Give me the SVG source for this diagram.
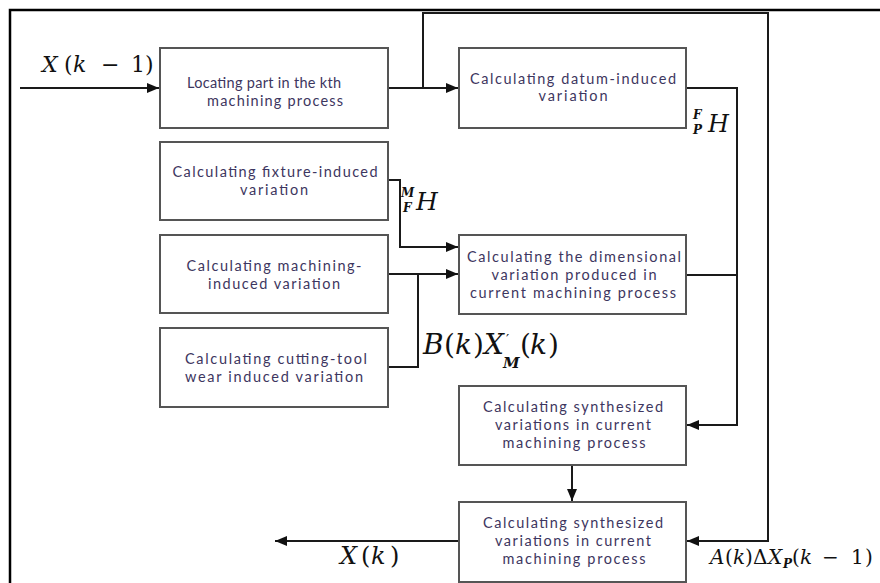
<svg xmlns="http://www.w3.org/2000/svg" width="880" height="583" viewBox="0 0 880 583">
  <defs>
    <marker id="arrow" viewBox="0 0 12 10" refX="12" refY="5" markerWidth="12" markerHeight="10" markerUnits="userSpaceOnUse" orient="auto">
      <path d="M0,0 L12,5 L0,10 z" fill="#111"/>
    </marker>
    <style>
      .box { fill: #fff; stroke: #555; stroke-width: 2; }
      .lbl { font-family: Lato, "Open Sans", "Liberation Sans", sans-serif; font-size: 14.5px; fill: #3d3660; text-anchor: middle; }
      .wire { fill: none; stroke: #1a1a1a; stroke-width: 2; }
      .math { font-family: "DejaVu Serif", "Liberation Serif", serif; fill: #111; }
      .it { font-style: italic; }
      .idx { font-style: italic; font-weight: bold; }
    </style>
  </defs>

  <rect width="880" height="583" fill="#fff"/>
  <!-- outer frame -->
  <path d="M10,583 V10 H880" fill="none" stroke="#000" stroke-width="2.5"/>

  <!-- connectors -->
  <g id="connectors">
    <path class="wire" d="M20,88 H159" marker-end="url(#arrow)"/>
    <path class="wire" d="M388,88 H458" marker-end="url(#arrow)"/>
    <path class="wire" d="M423,88 V13 H768 V541 H687" marker-end="url(#arrow)"/>
    <path class="wire" d="M686,88 H737 V425 H687" marker-end="url(#arrow)"/>
    <path class="wire" d="M686,275 H737"/>
    <path class="wire" d="M388,180 H400 V247 H458" marker-end="url(#arrow)"/>
    <path class="wire" d="M388,274 H458" marker-end="url(#arrow)"/>
    <path class="wire" d="M388,367 H418 V274"/>
    <path class="wire" d="M572,465 V501" marker-end="url(#arrow)"/>
    <path class="wire" d="M458,541 H275" marker-end="url(#arrow)"/>
  </g>

  <!-- process blocks -->
  <g id="locate">
    <rect class="box" x="160" y="48" width="228" height="80"/>
    <text class="lbl" x="264" y="88" textLength="154">Locating part in the kth</text>
    <text class="lbl" x="275" y="106" textLength="136">machining process</text>
  </g>
  <g id="datum">
    <rect class="box" x="459" y="48" width="227" height="80"/>
    <text class="lbl" x="573" y="84" textLength="206">Calculating datum-induced</text>
    <text class="lbl" x="573" y="101" textLength="69">variation</text>
  </g>
  <g id="fixture">
    <rect class="box" x="160" y="142" width="228" height="78"/>
    <text class="lbl" x="275" y="177" textLength="205">Calculating fixture-induced</text>
    <text class="lbl" x="274" y="195" textLength="68">variation</text>
  </g>
  <g id="machining">
    <rect class="box" x="160" y="235" width="228" height="78"/>
    <text class="lbl" x="274" y="271" textLength="175">Calculating machining-</text>
    <text class="lbl" x="274" y="289" textLength="132">induced variation</text>
  </g>
  <g id="toolwear">
    <rect class="box" x="160" y="328" width="228" height="79"/>
    <text class="lbl" x="276" y="364" textLength="182">Calculating cutting-tool</text>
    <text class="lbl" x="274" y="382" textLength="178">wear induced variation</text>
  </g>
  <g id="dimensional">
    <rect class="box" x="459" y="235" width="227" height="79"/>
    <text class="lbl" x="574" y="262" textLength="214">Calculating the dimensional</text>
    <text class="lbl" x="574" y="280" textLength="165">variation produced in</text>
    <text class="lbl" x="573" y="298" textLength="206">current machining process</text>
  </g>
  <g id="synthesized-1">
    <rect class="box" x="459" y="386" width="227" height="79"/>
    <text class="lbl" x="573" y="412" textLength="180">Calculating synthesized</text>
    <text class="lbl" x="573" y="430" textLength="156">variations in current</text>
    <text class="lbl" x="574" y="448" textLength="143">machining process</text>
  </g>
  <g id="synthesized-2">
    <rect class="box" x="459" y="502" width="227" height="80"/>
    <text class="lbl" x="573" y="528" textLength="180">Calculating synthesized</text>
    <text class="lbl" x="573" y="546" textLength="156">variations in current</text>
    <text class="lbl" x="574" y="564" textLength="143">machining process</text>
  </g>

  <!-- signal labels -->
  <g id="labels">
    <text class="math" y="72" font-size="22"><tspan class="it" x="42">X</tspan><tspan x="64">(</tspan><tspan class="it" x="73">k</tspan><tspan x="101">−</tspan><tspan x="131">1</tspan><tspan x="145">)</tspan></text>

    <text class="math"><tspan class="idx" x="693" y="119" font-size="12">F</tspan><tspan class="idx" x="693" y="134" font-size="12">P</tspan><tspan class="it" x="708" y="132" font-size="24">H</tspan></text>

    <text class="math"><tspan class="idx" x="401" y="197" font-size="12">M</tspan><tspan class="idx" x="403" y="212" font-size="12">F</tspan><tspan class="it" x="416" y="210" font-size="25">H</tspan></text>

    <text class="math" font-size="28"><tspan class="it" x="423" y="354">B</tspan><tspan x="444">(</tspan><tspan class="it" x="455">k</tspan><tspan x="473">)</tspan><tspan class="it" x="484">X</tspan><tspan x="506" y="345" font-size="14">′</tspan><tspan class="idx" x="503" y="368" font-size="15">M</tspan><tspan x="520" y="354">(</tspan><tspan class="it" x="530">k</tspan><tspan x="548">)</tspan></text>

    <text class="math" y="564" font-size="24"><tspan class="it" x="340">X</tspan><tspan x="361">(</tspan><tspan class="it" x="371">k</tspan><tspan x="390">)</tspan></text>

    <text class="math" font-size="20"><tspan class="it" x="710" y="564">A</tspan><tspan x="725">(</tspan><tspan class="it" x="733">k</tspan><tspan x="745">)</tspan><tspan x="753">Δ</tspan><tspan class="it" x="768">X</tspan><tspan class="idx" x="783" y="568" font-size="12">P</tspan><tspan x="792" y="564">(</tspan><tspan class="it" x="800">k</tspan><tspan x="822">−</tspan><tspan x="851">1</tspan><tspan x="865">)</tspan></text>
  </g>
</svg>
